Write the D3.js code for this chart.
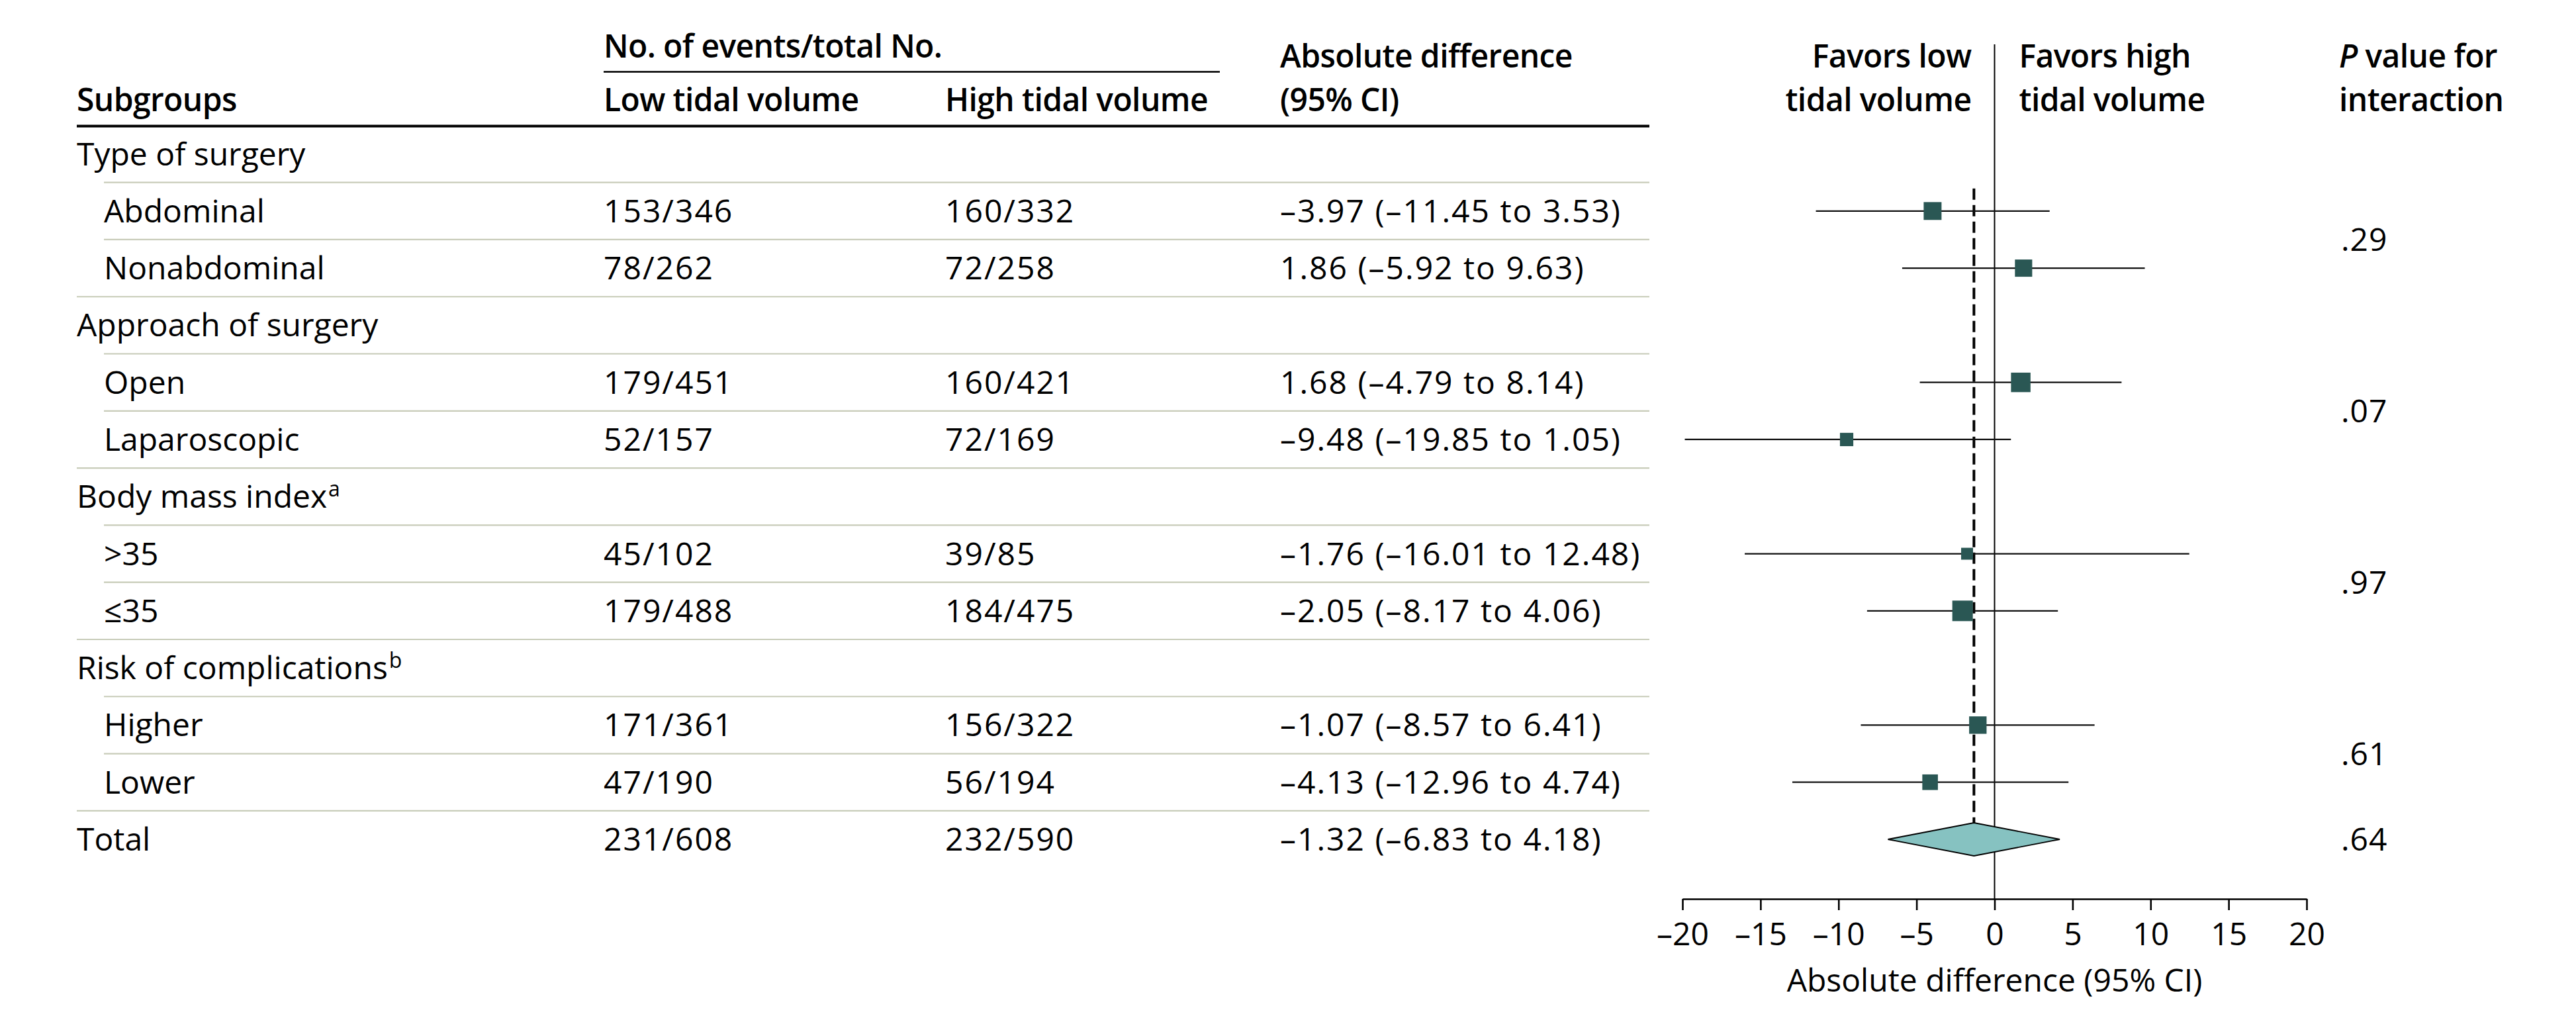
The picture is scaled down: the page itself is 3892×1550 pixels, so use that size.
<!DOCTYPE html>
<html><head><meta charset="utf-8">
<script src="https://cdn.jsdelivr.net/npm/d3@7"></script>
<style>
body{margin:0;background:#fff;}
svg text{font-family:"Open Sans",sans-serif;fill:#000;}
</style>
</head><body><svg id="chart"></svg>
<script>
// ---------- data ----------
const rowLabels = ["Type of surgery","Abdominal","Nonabdominal","Approach of surgery","Open","Laparoscopic","Body mass index",">35","≤35","Risk of complications","Higher","Lower","Total"];
const rowSuperscripts = ["","","","","","","a","","","b","","",""];
const rowKinds = ["group","sub","sub","group","sub","sub","group","sub","sub","group","sub","sub","total"];
const lowTidalEvents = ["","153/346","78/262","","179/451","52/157","","45/102","179/488","","171/361","47/190","231/608"];
const highTidalEvents = ["","160/332","72/258","","160/421","72/169","","39/85","184/475","","156/322","56/194","232/590"];
const diffEstimate = [null,-3.97,1.86,null,1.68,-9.48,null,-1.76,-2.05,null,-1.07,-4.13,-1.32];
const diffLower = [null,-11.45,-5.92,null,-4.79,-19.85,null,-16.01,-8.17,null,-8.57,-12.96,-6.83];
const diffUpper = [null,3.53,9.63,null,8.14,1.05,null,12.48,4.06,null,6.41,4.74,4.18];
const markerWeight = [null,87,84,null,95,65,null,58,100,null,85,76,null];
const pValueLabels = [".29",".07",".97",".61",".64"];
const pValueRows = [[1,2],[4,5],[7,8],[10,11],[12,12]];
const xTickValues = [-20,-15,-10,-5,0,5,10,15,20];

// ---------- layout ----------
const W = 3892, H = 1550;
const FS = 48;
const svg = d3.select("#chart").attr("width", W).attr("height", H);

const y = d3.scalePoint().domain(d3.range(rowLabels.length)).range([232.5, 1268]);
const x = d3.scaleLinear().domain([-20, 20]).range([2542, 3485]);
const markerSize = d3.scaleLinear().domain([0, 100]).range([0, 31]);
const rowGap = y.step();
const baseOff = 17;

const colLabelX = 116, colSubX = 157, colLowX = 912, colHighX = 1428, colDiffX = 1934, tableRight = 2492;
const pX = 3537;
const axisY = y(12) + 90;

const fmt = v => (v < 0 ? "\u2013" : "") + Math.abs(v).toFixed(2);

// ---------- headers ----------
const hdr = svg.append("g").attr("font-size", FS).attr("font-weight", 600).attr("letter-spacing", -0.6);
hdr.append("text").attr("x", colLabelX).attr("y", 168).text("Subgroups");
hdr.append("text").attr("x", colLowX).attr("y", 87).text("No. of events/total No.");
hdr.append("text").attr("x", colLowX).attr("y", 168).text("Low tidal volume");
hdr.append("text").attr("x", colHighX).attr("y", 168).text("High tidal volume");
hdr.append("text").attr("x", colDiffX).attr("y", 102).text("Absolute difference");
hdr.append("text").attr("x", colDiffX).attr("y", 168).text("(95% CI)");
hdr.append("text").attr("x", x(0) - 35).attr("y", 102).attr("text-anchor", "end").text("Favors low");
hdr.append("text").attr("x", x(0) - 35).attr("y", 168).attr("text-anchor", "end").text("tidal volume");
hdr.append("text").attr("x", x(0) + 37).attr("y", 102).text("Favors high");
hdr.append("text").attr("x", x(0) + 37).attr("y", 168).text("tidal volume");
const pt = hdr.append("text").attr("x", pX - 3).attr("y", 102);
pt.append("tspan").attr("font-style", "italic").text("P");
pt.append("tspan").text(" value for");
hdr.append("text").attr("x", pX - 3).attr("y", 168).text("interaction");

svg.append("line").attr("x1", colLowX).attr("x2", 1843).attr("y1", 108.5).attr("y2", 108.5)
  .attr("stroke", "#000").attr("stroke-width", 2.6);
svg.append("line").attr("x1", colLabelX).attr("x2", tableRight).attr("y1", 190.5).attr("y2", 190.5)
  .attr("stroke", "#000").attr("stroke-width", 4);

// ---------- separators ----------
svg.append("g").selectAll("line").data(d3.range(rowLabels.length - 1)).join("line")
  .attr("x1", i => rowKinds[i + 1] === "sub" ? colSubX : colLabelX)
  .attr("x2", tableRight)
  .attr("y1", i => y(i) + rowGap / 2).attr("y2", i => y(i) + rowGap / 2)
  .attr("stroke", "#c8ccb9").attr("stroke-width", 2.2);

// ---------- table text ----------
const rows = svg.append("g").attr("font-size", FS).attr("font-weight", 500);
const lab = rows.selectAll("text.lab").data(d3.range(rowLabels.length)).join("text")
  .attr("class", "lab")
  .attr("x", i => rowKinds[i] === "sub" ? colSubX : colLabelX)
  .attr("y", i => y(i) + baseOff);
lab.append("tspan").text(i => rowLabels[i]);
lab.filter(i => rowSuperscripts[i]).append("tspan")
  .attr("font-size", 32).attr("dx", 2).attr("dy", -17).text(i => rowSuperscripts[i]);

const numRows = d3.range(rowLabels.length).filter(i => diffEstimate[i] !== null);
rows.selectAll("text.low").data(numRows).join("text").attr("class", "low")
  .attr("x", colLowX).attr("y", i => y(i) + baseOff).attr("letter-spacing", 2)
  .text(i => lowTidalEvents[i]);
rows.selectAll("text.high").data(numRows).join("text").attr("class", "high")
  .attr("x", colHighX).attr("y", i => y(i) + baseOff).attr("letter-spacing", 2)
  .text(i => highTidalEvents[i]);
rows.selectAll("text.diff").data(numRows).join("text").attr("class", "diff")
  .attr("x", colDiffX).attr("y", i => y(i) + baseOff).attr("letter-spacing", 2)
  .text(i => `${fmt(diffEstimate[i])} (${fmt(diffLower[i])} to ${fmt(diffUpper[i])})`);

// ---------- P values ----------
rows.selectAll("text.p").data(pValueLabels).join("text").attr("class", "p")
  .attr("x", pX).attr("y", (d, k) => (y(pValueRows[k][0]) + y(pValueRows[k][1])) / 2 + baseOff)
  .attr("letter-spacing", 1)
  .text(d => d);

// ---------- forest plot ----------
const plot = svg.append("g");
// zero line
plot.append("line").attr("x1", x(0)).attr("x2", x(0)).attr("y1", 67).attr("y2", axisY)
  .attr("stroke", "#000").attr("stroke-width", 2);
// overall dashed line
const totalIdx = rowKinds.indexOf("total");
plot.append("line").attr("x1", x(diffEstimate[totalIdx])).attr("x2", x(diffEstimate[totalIdx]))
  .attr("y1", y(1) - 34).attr("y2", y(totalIdx) - 25)
  .attr("stroke", "#000").attr("stroke-width", 4).attr("stroke-dasharray", "17 8");

const subRows = numRows.filter(i => rowKinds[i] === "sub");
plot.selectAll("line.ci").data(subRows).join("line").attr("class", "ci")
  .attr("x1", i => x(diffLower[i])).attr("x2", i => x(diffUpper[i]))
  .attr("y1", i => y(i)).attr("y2", i => y(i))
  .attr("stroke", "#111").attr("stroke-width", 2.2);
plot.selectAll("rect.est").data(subRows).join("rect").attr("class", "est")
  .attr("x", i => x(diffEstimate[i]) - markerSize(markerWeight[i]) / 2)
  .attr("y", i => y(i) - markerSize(markerWeight[i]) / 2)
  .attr("width", i => markerSize(markerWeight[i]))
  .attr("height", i => markerSize(markerWeight[i]))
  .attr("fill", "#2a5754");

// diamond
const dy = y(totalIdx), dh = 25;
plot.append("path")
  .attr("d", `M${x(diffLower[totalIdx])},${dy} L${x(diffEstimate[totalIdx])},${dy - dh} L${x(diffUpper[totalIdx])},${dy} L${x(diffEstimate[totalIdx])},${dy + dh} Z`)
  .attr("fill", "#86c2c1").attr("stroke", "#000").attr("stroke-width", 1.8);

// axis
const axis = d3.axisBottom(x).tickValues(xTickValues).tickSize(17).tickSizeOuter(0).tickPadding(19)
  .tickFormat(d => (d < 0 ? "\u2013" : "") + Math.abs(d));
const ag = plot.append("g").attr("transform", `translate(0,${axisY})`).call(axis);
ag.select(".domain").attr("stroke", "#000").attr("stroke-width", 2.6);
ag.selectAll(".tick line").attr("stroke", "#000").attr("stroke-width", 2.6);
ag.selectAll(".tick text").attr("font-size", FS).attr("font-weight", 500).attr("font-family", "Open Sans, sans-serif").attr("fill", "#000");

plot.append("text").attr("x", x(0)).attr("y", 1498).attr("text-anchor", "middle").attr("font-size", FS).attr("font-weight", 500)
  .text("Absolute difference (95% CI)");
</script>
</body></html>
